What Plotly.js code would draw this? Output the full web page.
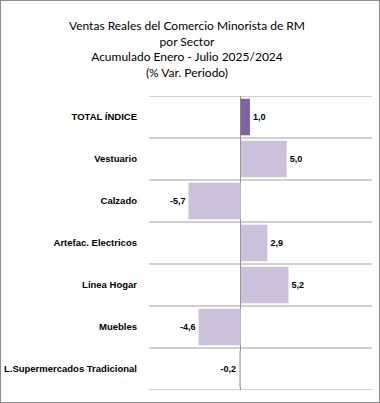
<!DOCTYPE html>
<html>
<head>
<meta charset="utf-8">
<script src="https://cdn.plot.ly/plotly-3.0.1.min.js"></script>
<style>
html,body{margin:0;padding:0;background:#fff;}
#chart{width:378px;height:401px;border:1px solid #8c8c8c;}
</style>
</head>
<body>
<div id="chart"></div>
<script>
const categories = ["TOTAL ÍNDICE", "Vestuario", "Calzado", "Artefac. Electricos", "Linea Hogar", "Muebles", "L.Supermercados Tradicional"];
const values = [1.0, 5.0, -5.7, 2.9, 5.2, -4.6, -0.2];
const barColors = ["#8064A2", "#CCC1DA", "#CCC1DA", "#CCC1DA", "#CCC1DA", "#CCC1DA", "#CCC1DA"];
const xRange = [-10, 14.3];

const idx = categories.map((c, i) => i);
const n = categories.length;
const boundaries = [-0.5].concat(idx.map(i => i + 0.5));

// category boundary gridlines, one line trace per boundary
const gridTraces = boundaries.map(b => ({
  type: "scatter",
  mode: "lines",
  x: [xRange[0], xRange[1]],
  y: [b, b],
  line: {color: "#a0a0a0", width: 1},
  cliponaxis: false,
  hoverinfo: "none",
  showlegend: false
}));

const trace = {
  type: "bar",
  orientation: "h",
  y: idx,
  x: values,
  marker: {color: barColors, line: {width: 0}},
  texttemplate: "%{x:.1f}",
  textposition: "outside",
  cliponaxis: false,
  textfont: {family: "Liberation Sans, Arial, sans-serif", size: 9, color: "#000", weight: "bold"},
  hoverinfo: "none"
};

const layout = {
  width: 378,
  height: 401,
  separators: ",.",
  margin: {l: 148, r: 7, t: 95, b: 12, pad: 0},
  paper_bgcolor: "#fff",
  plot_bgcolor: "#fff",
  showlegend: false,
  bargap: 0.13,
  title: {
    text: "Ventas Reales del Comercio Minorista de RM<br>por Sector<br>Acumulado Enero - Julio 2025/2024<br>(% Var. Periodo)",
    font: {family: "Lato, Carlito, sans-serif", size: 12, color: "#000"},
    x: 0.492, xanchor: "center",
    y: 0.927, yanchor: "top", yref: "container"
  },
  xaxis: {
    range: xRange,
    showticklabels: false,
    showgrid: false,
    zeroline: true,
    zerolinecolor: "#8c8c8c",
    zerolinewidth: 1,
    showline: false,
    ticks: "",
    fixedrange: true
  },
  yaxis: {
    range: [n - 0.5, -0.5],
    tickmode: "array",
    tickvals: idx,
    ticktext: categories,
    showgrid: false,
    ticks: "",
    ticklabelstandoff: 11,
    tickfont: {family: "Liberation Sans, Arial, sans-serif", size: 9.5, color: "#000", weight: "bold"},
    showline: false,
    zeroline: false,
    fixedrange: true
  }
};

Plotly.newPlot("chart", gridTraces.concat([trace]), layout, {displayModeBar: false, staticPlot: true});
</script>
</body>
</html>
